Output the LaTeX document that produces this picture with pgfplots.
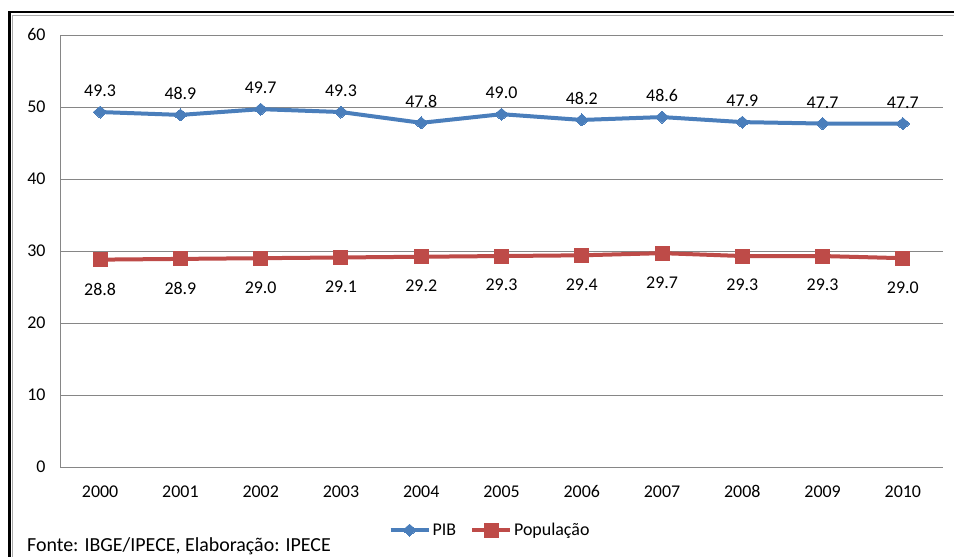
\documentclass[border=0pt]{standalone}
\usepackage{pgfplots}
\pgfplotsset{compat=1.18}
\usepackage{fontspec}
\setmainfont{Carlito}
\definecolor{pibblue}{RGB}{74,126,187}
\definecolor{popred}{RGB}{190,75,72}
\definecolor{gridgray}{RGB}{134,134,134}
\begin{document}
\begin{tikzpicture}[x=1bp,y=1bp]
\path[use as bounding box] (0,0) rectangle (954,557);
\clip (0,0) rectangle (954,557);
\fill[white] (0,0) rectangle (954,557);
\draw[black,line width=2.6bp] (9.3,-20) rectangle (980,545);
\draw[gridgray!70,line width=0.9bp] (12.3,-20) rectangle (977,542);
\begin{axis}[
  at={(60bp,90bp)}, anchor=south west,
  scale only axis, width=883bp, height=432bp,
  xmin=-0.5, xmax=10.5, ymin=0, ymax=60,
  xtick={0,...,10},
  xticklabels={2000,2001,2002,2003,2004,2005,2006,2007,2008,2009,2010},
  ytick={0,10,...,60},
  ymajorgrids, major grid style={gridgray,line width=0.9bp},
  axis x line*=bottom, axis y line*=left,
  axis line style={gridgray,line width=0.9bp},
  major tick length=0pt,
  tick style={draw=none},
  /pgf/number format/assume math mode=true,
  ticklabel style={font=\fontsize{18}{20}\selectfont},
  xticklabel style={yshift=-15bp},
  yticklabel style={xshift=-11bp},
  legend style={at={(0.487,-0.146)}, anchor=center, draw=none, fill=none,
    legend columns=2, font=\fontsize{18}{20}\selectfont,
    /tikz/every even column/.append style={column sep=12bp},
    inner sep=0pt},
  legend image code/.code={
    \draw[#1,mark=none] (0bp,0bp) -- (38bp,0bp);
    \draw[#1,line width=0pt] plot coordinates {(19bp,0bp)};
  },
  clip=false,
]
\addplot[pibblue, line width=4bp, mark=diamond*, mark size=6bp,
  mark options={fill=pibblue,draw=pibblue,line width=0pt,xscale=1.55},
  nodes near coords, point meta=explicit symbolic,
  every node near coord/.append style={anchor=south, yshift=12bp, text=black, font=\fontsize{18}{20}\selectfont}]
  coordinates {
  (0,49.3) [49.3] (1,48.9) [48.9] (2,49.7) [49.7] (3,49.3) [49.3] (4,47.8) [47.8]
  (5,49.0) [49.0] (6,48.2) [48.2] (7,48.6) [48.6] (8,47.9) [47.9] (9,47.7) [47.7] (10,47.7) [47.7]
  };
\addlegendentry{PIB}
\addplot[popred, line width=4bp, mark=square*, mark size=7bp,
  mark options={fill=popred,draw=popred,line width=0pt},
  nodes near coords, point meta=explicit symbolic,
  every node near coord/.append style={anchor=north, yshift=-20bp, text=black, font=\fontsize{18}{20}\selectfont}]
  coordinates {
  (0,28.8) [28.8] (1,28.9) [28.9] (2,29.0) [29.0] (3,29.1) [29.1] (4,29.2) [29.2]
  (5,29.3) [29.3] (6,29.4) [29.4] (7,29.7) [29.7] (8,29.3) [29.3] (9,29.3) [29.3] (10,29.0) [29.0]
  };
\addlegendentry{População}
\end{axis}
\node[anchor=base west, font=\fontsize{20}{23}\selectfont, inner sep=0pt] at (27,5.5) {Fonte: IBGE/IPECE, Elaboração: IPECE};
\end{tikzpicture}
\end{document}
